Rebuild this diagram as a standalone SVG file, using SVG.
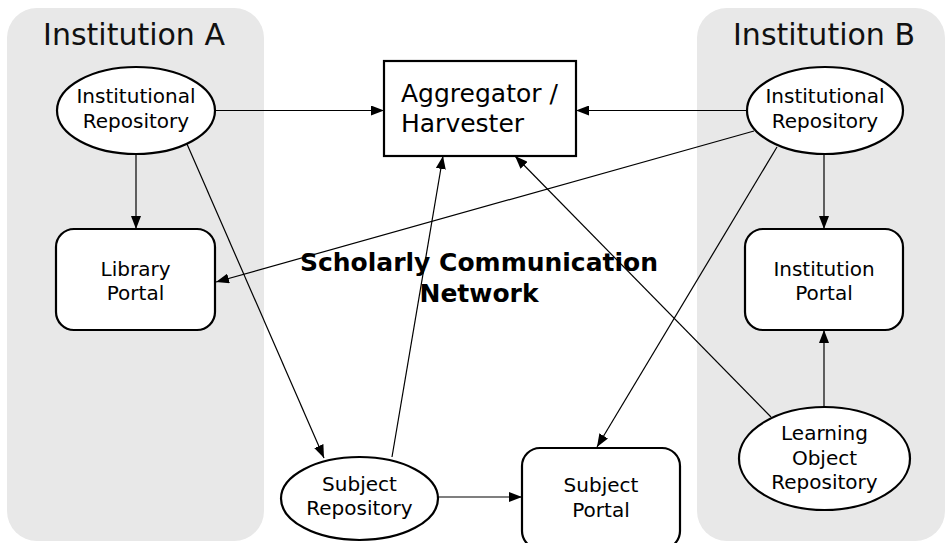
<svg xmlns="http://www.w3.org/2000/svg" width="946" height="543" viewBox="0 0 946 543">
<defs>
<marker id="arr" markerWidth="14" markerHeight="10" refX="13" refY="5" orient="auto" markerUnits="userSpaceOnUse">
<path d="M0,0 L13,5 L0,10 Z" fill="#000"/>
</marker>
<style>
.panel{fill:#e8e8e8;stroke:none}
.node{fill:#fff;stroke:#000;stroke-width:2.2}
.t{font-family:"DejaVu Sans",sans-serif;font-size:20px;fill:#000;text-anchor:middle}
.title{font-family:"DejaVu Sans",sans-serif;font-size:30px;fill:#111;text-anchor:middle}
.edge{stroke:#000;stroke-width:1.2;fill:none;marker-end:url(#arr)}
</style>
</defs>
<rect class="panel" x="7" y="8" width="257" height="533" rx="30"/>
<rect class="panel" x="697" y="8" width="248" height="533" rx="30"/>
<text class="title" x="134" y="45">Institution A</text>
<text class="title" x="824" y="45">Institution B</text>
<text x="479" y="271" style="font-family:'DejaVu Sans',sans-serif;font-size:25px;font-weight:bold;text-anchor:middle">Scholarly Communication</text>
<text x="479" y="302" style="font-family:'DejaVu Sans',sans-serif;font-size:25px;font-weight:bold;text-anchor:middle">Network</text>
<g id="connectors">
<line class="edge" x1="215" y1="110.5" x2="384" y2="110.5"/>
<line class="edge" x1="747" y1="110.5" x2="576" y2="110.5"/>
<line class="edge" x1="136" y1="154" x2="136" y2="229"/>
<line class="edge" x1="187" y1="144" x2="324" y2="458"/>
<line class="edge" x1="392" y1="457" x2="443" y2="156"/>
<line class="edge" x1="438" y1="497" x2="522" y2="497"/>
<line class="edge" x1="754" y1="131" x2="216" y2="282"/>
<line class="edge" x1="777" y1="147" x2="597" y2="447"/>
<line class="edge" x1="771" y1="417" x2="515" y2="156"/>
<line class="edge" x1="824" y1="154" x2="824" y2="229"/>
<line class="edge" x1="824" y1="407" x2="824" y2="330"/>
</g>
<g id="aggregator">
<rect class="node" x="384" y="61" width="192" height="95"/>
<text x="401" y="102" style="font-family:'DejaVu Sans',sans-serif;font-size:25px">Aggregator /</text>
<text x="401" y="132" style="font-family:'DejaVu Sans',sans-serif;font-size:25px">Harvester</text>
</g>
<g id="ir-a">
<ellipse class="node" cx="136" cy="110.5" rx="79" ry="43.5"/>
<text class="t" x="136" y="103">Institutional</text>
<text class="t" x="136" y="128">Repository</text>
</g>
<g id="ir-b">
<ellipse class="node" cx="825" cy="110.5" rx="78" ry="43.5"/>
<text class="t" x="825" y="103">Institutional</text>
<text class="t" x="825" y="128">Repository</text>
</g>
<g id="library-portal">
<rect class="node" x="56" y="229" width="159" height="101" rx="18"/>
<text class="t" x="135.5" y="276">Library</text>
<text class="t" x="135.5" y="300">Portal</text>
</g>
<g id="institution-portal">
<rect class="node" x="745" y="229" width="158" height="101" rx="18"/>
<text class="t" x="824" y="276">Institution</text>
<text class="t" x="824" y="300">Portal</text>
</g>
<g id="lor">
<ellipse class="node" cx="824.5" cy="458.5" rx="85.5" ry="51.5"/>
<text class="t" x="824.5" y="440">Learning</text>
<text class="t" x="824.5" y="465">Object</text>
<text class="t" x="824.5" y="489">Repository</text>
</g>
<g id="subject-repository">
<ellipse class="node" cx="359.5" cy="498.5" rx="78.5" ry="41.5"/>
<text class="t" x="359.5" y="491">Subject</text>
<text class="t" x="359.5" y="515">Repository</text>
</g>
<g id="subject-portal">
<rect class="node" x="522" y="448" width="158" height="101" rx="18"/>
<text class="t" x="601" y="492">Subject</text>
<text class="t" x="601" y="517">Portal</text>
</g>
</svg>
